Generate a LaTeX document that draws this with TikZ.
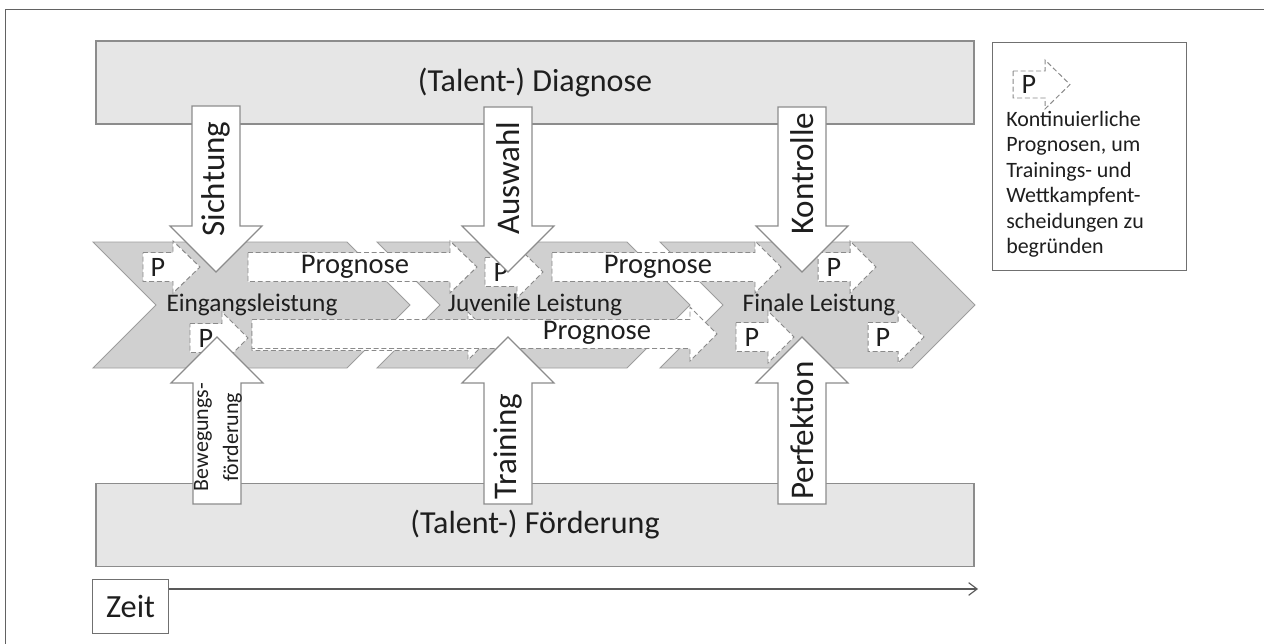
\documentclass[tikz,border=0pt]{standalone}
\usepackage{fontspec}
\setmainfont{Carlito}
\usetikzlibrary{arrows.meta}
\definecolor{bandcolor}{HTML}{E6E6E6}
\definecolor{chevcolor}{HTML}{D0D0D0}
\definecolor{edgecolor}{HTML}{8C8C8C}
\definecolor{dashcolor}{HTML}{8A8A8A}
\definecolor{inkcolor}{HTML}{1E1E1E}

\begin{document}
\begin{tikzpicture}[
    x=0.025cm, y=-0.025cm,
    band/.style={
        rectangle, minimum width=21.95cm, minimum height=2.075cm,
        draw=edgecolor, line width=0.9pt, fill=bandcolor,
        font=\fontsize{22.8}{27}\selectfont, text=inkcolor
    },
    chevron/.style={
        draw=edgecolor!85, line width=0.6pt, fill=chevcolor
    },
    chevlabel/.style={
        font=\fontsize{18}{22}\selectfont, text=inkcolor
    },
    prog/.style={
        draw=dashcolor, line width=0.7pt, fill=white, dash pattern=on 3.5pt off 2pt
    },
    proglabel/.style={
        font=\fontsize{20.3}{24}\selectfont, text=inkcolor
    },
    plabel/.style={
        font=\fontsize{20}{24}\selectfont, text=inkcolor
    },
    bigarrow/.style={
        draw=edgecolor, line width=0.8pt, fill=white
    },
    arrowlabel/.style={
        rotate=90, anchor=west, inner sep=0pt,
        font=\fontsize{23.5}{28}\selectfont, text=inkcolor
    },
    legendbox/.style={
        rectangle, minimum width=4.825cm, minimum height=5.675cm,
        draw=edgecolor!80!black, line width=0.7pt, fill=white
    },
    legendtext/.style={
        anchor=north west, align=left, inner sep=0pt,
        font=\fontsize{15.6}{18.1}\selectfont, text=inkcolor
    },
    zeitbox/.style={
        rectangle, minimum width=1.875cm, minimum height=1.35cm,
        draw=edgecolor!80!black, line width=0.7pt, fill=white,
        font=\fontsize{23}{27}\selectfont, text=inkcolor
    },
    timeline/.style={
        -{Straight Barb[length=6pt, width=9pt]}, line width=0.8pt, color=black!65
    }
]
\useasboundingbox (0,0) rectangle (1264,644);

% Frame (top and left only)
\draw[edgecolor!70!black, line width=0.7pt] (5,644) -- (5,9) -- (1264,9);

% Bands
\node[band] (diagnose) at (535,82.5) {(Talent-) Diagnose};
\node[band] (foerderung) at (535,525) {(Talent-) Förderung};

% Chevrons (left to right)
\draw[chevron] (93,242) -- (347,242) -- (410,305) -- (347,368) -- (93,368) -- (156,305) -- cycle;
\draw[chevron] (377,242) -- (627,242) -- (690,305) -- (627,368) -- (377,368) -- (440,305) -- cycle;
\draw[chevron] (660,242) -- (912,242) -- (975,305) -- (912,368) -- (660,368) -- (723,305) -- cycle;

% Prognoses, upper row
\draw[prog] (143,252.5) -- (173,252.5) -- (173,241) -- (200,267) -- (173,293) -- (173,281.5) -- (143,281.5) -- cycle;
\node[plabel] (p1) at (158,267) {P};
\draw[prog] (248,252.5) -- (450,252.5) -- (450,241) -- (477,267) -- (450,293) -- (450,281.5) -- (248,281.5) -- cycle;
\node[proglabel] (prog1) at (355,267) {Prognose};
\draw[prog] (485,257.5) -- (517,257.5) -- (517,246) -- (543,272) -- (517,298) -- (517,286.5) -- (485,286.5) -- cycle;
\node[plabel] (p2) at (501,272) {P};
\draw[prog] (552,252.5) -- (755,252.5) -- (755,241) -- (781,267) -- (755,293) -- (755,281.5) -- (552,281.5) -- cycle;
\node[proglabel] (prog2) at (658,267) {Prognose};
\draw[prog] (818,252.5) -- (850,252.5) -- (850,241) -- (876,267) -- (850,293) -- (850,281.5) -- (818,281.5) -- cycle;
\node[plabel] (p3) at (834,267) {P};

% Prognoses, lower row
\draw[prog] (190,323.5) -- (222,323.5) -- (222,312) -- (248,338) -- (222,364) -- (222,352.5) -- (190,352.5) -- cycle;
\node[plabel] (p4) at (206,338) {P};
\draw[prog] (252,321.5) -- (468,321.5) -- (468,312) -- (492,336) -- (468,360) -- (468,350.5) -- (252,350.5) -- cycle;
\draw[prog] (252,319.5) -- (690,319.5) -- (690,307) -- (717,334) -- (690,361) -- (690,348.5) -- (252,348.5) -- cycle;
\node[proglabel] (prog3) at (597,333) {Prognose};
\draw[prog] (736,322.5) -- (768,322.5) -- (768,311) -- (794,337) -- (768,363) -- (768,351.5) -- (736,351.5) -- cycle;
\node[plabel] (p5) at (752,337) {P};
\draw[prog] (868,322.5) -- (898,322.5) -- (898,311) -- (924,337) -- (898,363) -- (898,351.5) -- (868,351.5) -- cycle;
\node[plabel] (p6) at (883,337) {P};

% Stage labels
\node[chevlabel] (eingang) at (252,305) {Eingangsleistung};
\node[chevlabel] (juvenil) at (535,305) {Juvenile Leistung};
\node[chevlabel] (final) at (819,305) {Finale Leistung};

% Diagnosis arrows (down)
\draw[bigarrow] (192,106) -- (240,106) -- (240,226) -- (262,226) -- (216,272) -- (170,226) -- (192,226) -- cycle;
\draw[bigarrow] (484,107) -- (532,107) -- (532,226) -- (554,226) -- (508,272) -- (462,226) -- (484,226) -- cycle;
\draw[bigarrow] (778,107) -- (826,107) -- (826,226) -- (848,226) -- (802,272) -- (756,226) -- (778,226) -- cycle;
\node[arrowlabel] (sichtung) at (216,237) {Sichtung};
\node[arrowlabel] (auswahl) at (508,235) {Auswahl};
\node[arrowlabel] (kontrolle) at (802,235) {Kontrolle};

% Support arrows (up)
\draw[bigarrow] (193,504) -- (241,504) -- (241,383) -- (263,383) -- (217,337) -- (171,383) -- (193,383) -- cycle;
\draw[bigarrow] (484,504) -- (532,504) -- (532,383) -- (554,383) -- (508,337) -- (462,383) -- (484,383) -- cycle;
\draw[bigarrow] (778,504) -- (826,504) -- (826,383) -- (848,383) -- (802,337) -- (756,383) -- (778,383) -- cycle;
\node[rotate=90, align=center, inner sep=0pt, font=\fontsize{15.6}{21.3}\selectfont, text=inkcolor] (bewegung) at (218,437) {Bewegungs-\\förderung};
\node[arrowlabel] (training) at (508,500) {Training};
\node[arrowlabel] (perfektion) at (802,500) {Perfektion};

% Legend
\node[legendbox] (legend) at (1089.5,156.5) {};
\draw[prog] (1013,71) -- (1045,71) -- (1045,60) -- (1070,84.5) -- (1045,109) -- (1045,98) -- (1013,98) -- cycle;
\node[plabel] (plegend) at (1029,84.5) {P};
\node[legendtext] (legendnote) at (1006,111) {Kontinuierliche\\Prognosen, um\\Trainings- und\\Wettkampfent-\\scheidungen zu\\begründen};

% Time axis
\node[zeitbox] (zeit) at (130.5,606) {Zeit};
\coordinate (zeitend) at (978,589);
\draw[timeline] (zeit.east |- zeitend) -- (zeitend);

\end{tikzpicture}
\end{document}
